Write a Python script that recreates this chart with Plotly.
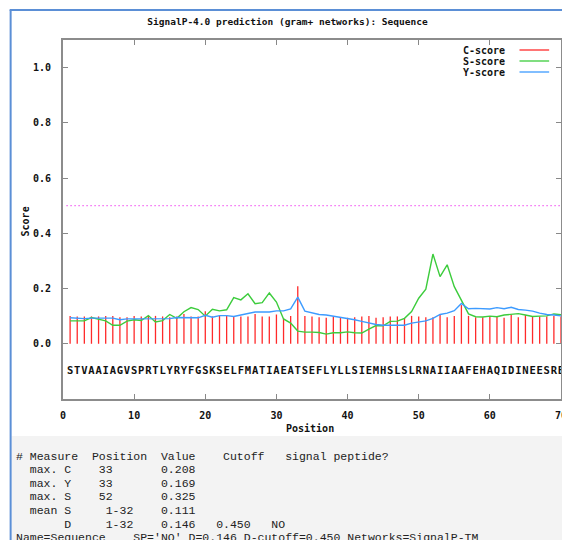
import plotly.graph_objects as go

# ---------------- data ----------------
sequence = "STVAAIAGVSPRTLYRYFGSKSELFMATIAEATSEFLYLLSIEMHSLSLRNAIIAAFEHAQIDINEESRE"
positions = list(range(1, len(sequence) + 1))

c_score = [0.101, 0.099, 0.099, 0.099, 0.099, 0.101, 0.101, 0.096, 0.096, 0.101,
           0.099, 0.101, 0.101, 0.099, 0.096, 0.099, 0.108, 0.099, 0.099, 0.118,
           0.099, 0.102, 0.102, 0.099, 0.099, 0.099, 0.108, 0.099, 0.099, 0.106,
           0.092, 0.101, 0.208, 0.101, 0.099, 0.096, 0.094, 0.099, 0.096, 0.094,
           0.096, 0.099, 0.101, 0.094, 0.096, 0.099, 0.099, 0.092, 0.101, 0.099,
           0.096, 0.096, 0.104, 0.096, 0.101, 0.140, 0.101, 0.096, 0.096, 0.099,
           0.101, 0.094, 0.104, 0.096, 0.104, 0.099, 0.099, 0.099, 0.101, 0.099]

s_score = [0.083, 0.083, 0.083, 0.095, 0.089, 0.083, 0.067, 0.067, 0.082, 0.087,
           0.084, 0.102, 0.079, 0.084, 0.106, 0.092, 0.116, 0.131, 0.124, 0.100,
           0.125, 0.119, 0.123, 0.167, 0.159, 0.181, 0.145, 0.149, 0.184, 0.151,
           0.090, 0.075, 0.046, 0.042, 0.042, 0.041, 0.035, 0.040, 0.040, 0.043,
           0.040, 0.039, 0.053, 0.066, 0.065, 0.081, 0.082, 0.092, 0.117, 0.165,
           0.198, 0.325, 0.243, 0.286, 0.207, 0.156, 0.108, 0.098, 0.097, 0.100,
           0.098, 0.104, 0.106, 0.109, 0.104, 0.099, 0.100, 0.101, 0.108, 0.105]

y_score = [0.094, 0.092, 0.091, 0.093, 0.093, 0.093, 0.093, 0.087, 0.090, 0.090,
           0.090, 0.090, 0.090, 0.090, 0.091, 0.095, 0.094, 0.095, 0.094, 0.103,
           0.096, 0.102, 0.102, 0.099, 0.104, 0.108, 0.115, 0.115, 0.115, 0.119,
           0.119, 0.126, 0.169, 0.118, 0.111, 0.106, 0.104, 0.100, 0.096, 0.092,
           0.087, 0.081, 0.075, 0.070, 0.067, 0.067, 0.067, 0.067, 0.075, 0.078,
           0.083, 0.092, 0.106, 0.111, 0.120, 0.146, 0.127, 0.128, 0.126, 0.126,
           0.131, 0.127, 0.132, 0.124, 0.122, 0.118, 0.111, 0.106, 0.104, 0.101]

cutoff_line = 0.5
y_ticks = [0.0, 0.2, 0.4, 0.6, 0.8, 1.0]
x_ticks = [0, 10, 20, 30, 40, 50, 60, 70]

series_names = ["C-score", "S-score", "Y-score"]
series_colors = ["#ff2a2a", "#3ccc3c", "#3d9bff"]

report_lines = [
    "# Measure  Position  Value    Cutoff   signal peptide?",
    "  max. C    33       0.208",
    "  max. Y    33       0.169",
    "  max. S    52       0.325",
    "  mean S     1-32    0.111",
    "       D     1-32    0.146   0.450   NO",
    "Name=Sequence    SP='NO' D=0.146 D-cutoff=0.450 Networks=SignalP-TM",
]

# ---------------- layout geometry ----------------
# the page has an 8px body margin, so the figure starts at (8, 8) in the window
OFF = 8
W, H = 570 - OFF, 540 - OFF
ML, MR = 63 - OFF, W - (567 - OFF)
MT = 40 - OFF
MB = H - (399 - OFF)
PW = W - ML - MR
PH = H - MT - MB


def px(xw):
    """window x pixel -> paper x"""
    return (xw - OFF - ML) / PW


def py(yw):
    """window y pixel -> paper y"""
    return (H - MB - (yw - OFF)) / PH


GFONT = "DejaVu Sans Mono"

fig = go.Figure()

# C-score impulses
cx, cy = [], []
for p, v in zip(positions, c_score):
    cx += [p, p, None]
    cy += [0, v, None]
fig.add_trace(go.Scatter(x=cx, y=cy, mode="lines",
                         line=dict(color=series_colors[0], width=1.3),
                         showlegend=False, hoverinfo="skip"))

fig.add_trace(go.Scatter(x=positions, y=s_score, mode="lines",
                         line=dict(color=series_colors[1], width=1.4),
                         showlegend=False))
fig.add_trace(go.Scatter(x=positions, y=y_score, mode="lines",
                         line=dict(color=series_colors[2], width=1.4),
                         showlegend=False))

# cutoff dotted line
fig.add_trace(go.Scatter(x=[positions[0] - 0.5, positions[-1]],
                         y=[cutoff_line, cutoff_line], mode="lines",
                         line=dict(color="#ee22ee", width=1.2, dash="1px,3px"),
                         showlegend=False, hoverinfo="skip"))

# sequence letters
fig.add_trace(go.Scatter(x=positions, y=[-0.1] * len(positions), mode="text",
                         text=list(sequence), cliponaxis=False,
                         textfont=dict(family=GFONT, size=10.5, color="#111",
                                       weight="bold"),
                         textposition="middle center",
                         showlegend=False, hoverinfo="skip"))

annotations = []
shapes = []

# legend (gnuplot style: text right, sample line after it)
for i, (name, col) in enumerate(zip(series_names, series_colors)):
    yy = py(50 + i * 11)
    annotations.append(dict(text="<b>%s</b>" % name, xref="paper", yref="paper",
                            x=px(512), y=yy, xanchor="right", yanchor="middle",
                            showarrow=False,
                            font=dict(family=GFONT, size=10, color="#111")))
    shapes.append(dict(type="line", xref="paper", yref="paper",
                       x0=px(525), x1=px(555), y0=yy, y1=yy,
                       line=dict(color=col, width=1.3)))

# axis titles
annotations.append(dict(text="<b>Position</b>", xref="paper", yref="paper",
                        x=px(313), y=py(428), xanchor="center", yanchor="middle",
                        showarrow=False, font=dict(family=GFONT, size=10, color="#111")))
annotations.append(dict(text="<b>Score</b>", xref="paper", yref="paper",
                        x=px(26), y=py(221), xanchor="center", yanchor="middle",
                        textangle=-90, showarrow=False,
                        font=dict(family=GFONT, size=10, color="#111")))

# page decoration: grey report panel and blue frame
shapes.append(dict(type="rect", xref="paper", yref="paper",
                   x0=px(11), x1=px(580), y0=py(436), y1=py(550),
                   fillcolor="#f3f3f3", line=dict(width=0), layer="below"))
shapes.append(dict(type="line", xref="paper", yref="paper",
                   x0=px(10), x1=px(10), y0=py(10), y1=py(550),
                   line=dict(color="#5b8fd6", width=2)))
shapes.append(dict(type="line", xref="paper", yref="paper",
                   x0=px(9), x1=px(580), y0=py(10), y1=py(10),
                   line=dict(color="#5b8fd6", width=2)))

# report text
for i, line in enumerate(report_lines):
    annotations.append(dict(text=line.replace(" ", "\u00a0"), xref="paper", yref="paper",
                            x=px(13), y=py(456 + i * 13.6), xanchor="left",
                            yanchor="middle", showarrow=False, align="left",
                            font=dict(family="Liberation Mono", size=11.5, color="#222")))

fig.update_layout(
    width=W, height=H,
    margin=dict(l=ML, r=MR, t=MT, b=MB, pad=0),
    paper_bgcolor="white", plot_bgcolor="white",
    title=dict(text="<b>SignalP-4.0 prediction (gram+ networks): Sequence</b>",
               x=(287.5 - OFF) / W, xanchor="center", y=1 - (22 - OFF) / H,
               yanchor="middle",
               font=dict(family=GFONT, size=9.5, color="#111")),
    annotations=annotations, shapes=shapes,
    showlegend=False,
)

fig.update_xaxes(range=[0, 70], tickvals=x_ticks,
                 ticktext=["<b>%d</b>" % t for t in x_ticks],
                 ticks="inside", ticklen=5, tickcolor="#888", tickwidth=1,
                 showline=True, linecolor="#8c8c8c", linewidth=2, mirror="allticks",
                 showgrid=False, zeroline=False,
                 tickfont=dict(family=GFONT, size=10, color="#111"),
                 ticklabelstandoff=6, ticklabeloverflow="allow")
fig.update_yaxes(range=[-0.2, 1.1], tickvals=y_ticks,
                 ticktext=["<b>%.1f</b>" % t for t in y_ticks],
                 ticks="inside", ticklen=5, tickcolor="#888", tickwidth=1,
                 showline=True, linecolor="#8c8c8c", linewidth=2, mirror="allticks",
                 showgrid=False, zeroline=False,
                 tickfont=dict(family=GFONT, size=10, color="#111"),
                 ticklabelstandoff=8)

fig.write_html("out.html",
               post_script="document.body.style.overflow='hidden';"
                           "document.documentElement.style.overflow='hidden';")
